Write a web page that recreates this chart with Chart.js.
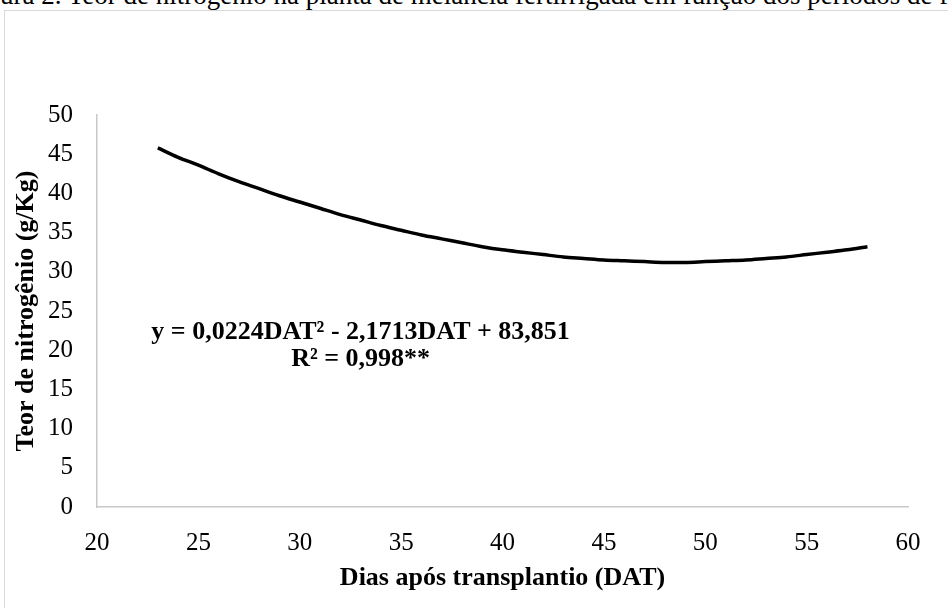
<!DOCTYPE html>
<html>
<head>
<meta charset="utf-8">
<script src="https://cdn.jsdelivr.net/npm/chart.js@4"></script>
<style>
  body { margin: 0; background: #fff; overflow: hidden; }
  #wrap { position: relative; width: 948px; height: 608px; overflow: hidden; }
  #caption {
    position: absolute; left: 0; top: -18px; white-space: nowrap;
    font: 27px/27px 'Liberation Serif', 'Times New Roman', serif; color: #000;
  }
  #frame {
    position: absolute; left: 4px; top: 10px; width: 1000px; height: 700px;
    border: 1px solid #d9d9d9; box-sizing: border-box;
  }
  canvas { position: absolute; left: 0; top: 0; }
</style>
</head>
<body>
<div id="wrap">
  <div id="caption">ura 2. Teor de nitrogênio na planta de melancia fertirrigada em função dos períodos de fertirrigação</div>
  <div id="frame"></div>
  <canvas id="chart" width="948" height="608"></canvas>
</div>
<script>
// days after transplanting (DAT)
const dias = [23, 24, 25, 26, 27, 28, 29, 30, 31, 32, 33, 34, 35, 36, 37, 38, 39, 40,
              41, 42, 43, 44, 45, 46, 47, 48, 49, 50, 51, 52, 53, 54, 55, 56, 57, 58];
// nitrogen content (g/Kg)
const teorN = [45.8, 44.6, 43.6, 42.5, 41.5, 40.6, 39.7, 38.9, 38.1, 37.3, 36.6, 35.9,
               35.3, 34.7, 34.2, 33.7, 33.2, 32.8, 32.5, 32.2, 31.9, 31.7, 31.5, 31.4,
               31.3, 31.2, 31.2, 31.3, 31.4, 31.5, 31.7, 31.9, 32.2, 32.5, 32.8, 33.2];
const equacao = ['y = 0,0224DAT² - 2,1713DAT + 83,851', 'R² = 0,998**'];

const serif = "'Liberation Serif', 'Times New Roman', serif";

// equation text placed with the chart's own scales
const equationLabel = {
    id: 'equationLabel',
    afterDatasetsDraw(chart) {
        const ctx = chart.ctx;
        const x = chart.scales.x.getPixelForValue(33);
        ctx.save();
        ctx.font = 'bold 26px ' + serif;
        ctx.fillStyle = '#000';
        ctx.textAlign = 'center';
        ctx.textBaseline = 'middle';
        ctx.fillText(equacao[0], x, chart.scales.y.getPixelForValue(22.3));
        ctx.fillText(equacao[1], x, chart.scales.y.getPixelForValue(18.9));
        ctx.restore();
    }
};

new Chart(document.getElementById('chart'), {
    type: 'line',
    data: {
        datasets: [{
            data: dias.map((d, i) => ({ x: d, y: teorN[i] })),
            borderColor: '#000',
            borderWidth: 3.5,
            pointRadius: 0,
            cubicInterpolationMode: 'monotone',
            fill: false
        }]
    },
    options: {
        responsive: false,
        animation: false,
        layout: { padding: { left: 0, top: 115, right: 40, bottom: 0 } },
        plugins: {
            legend: { display: false },
            tooltip: { enabled: false }
        },
        scales: {
            x: {
                type: 'linear',
                min: 20,
                max: 60,
                afterFit: s => { s.height = 101; },
                ticks: {
                    stepSize: 5,
                    padding: 21,
                    color: '#000',
                    font: { family: serif, size: 25 }
                },
                grid: { display: false, drawTicks: false },
                border: { color: '#c8c8c8', width: 1.5 },
                title: {
                    display: true,
                    text: 'Dias após transplantio (DAT)',
                    color: '#000',
                    font: { family: serif, size: 26, weight: 'bold' },
                    padding: { top: 0, bottom: 14 }
                }
            },
            y: {
                min: 0,
                max: 50,
                afterFit: s => { s.width = 97; },
                ticks: {
                    stepSize: 5,
                    padding: 24,
                    color: '#000',
                    font: { family: serif, size: 25 }
                },
                grid: { display: false, drawTicks: false },
                border: { color: '#c8c8c8', width: 1.5 },
                title: {
                    display: true,
                    text: 'Teor de nitrogênio (g/Kg)',
                    color: '#000',
                    font: { family: serif, size: 26, weight: 'bold' },
                    padding: { top: 11, bottom: 0 }
                }
            }
        }
    },
    plugins: [equationLabel]
});
</script>
</body>
</html>
